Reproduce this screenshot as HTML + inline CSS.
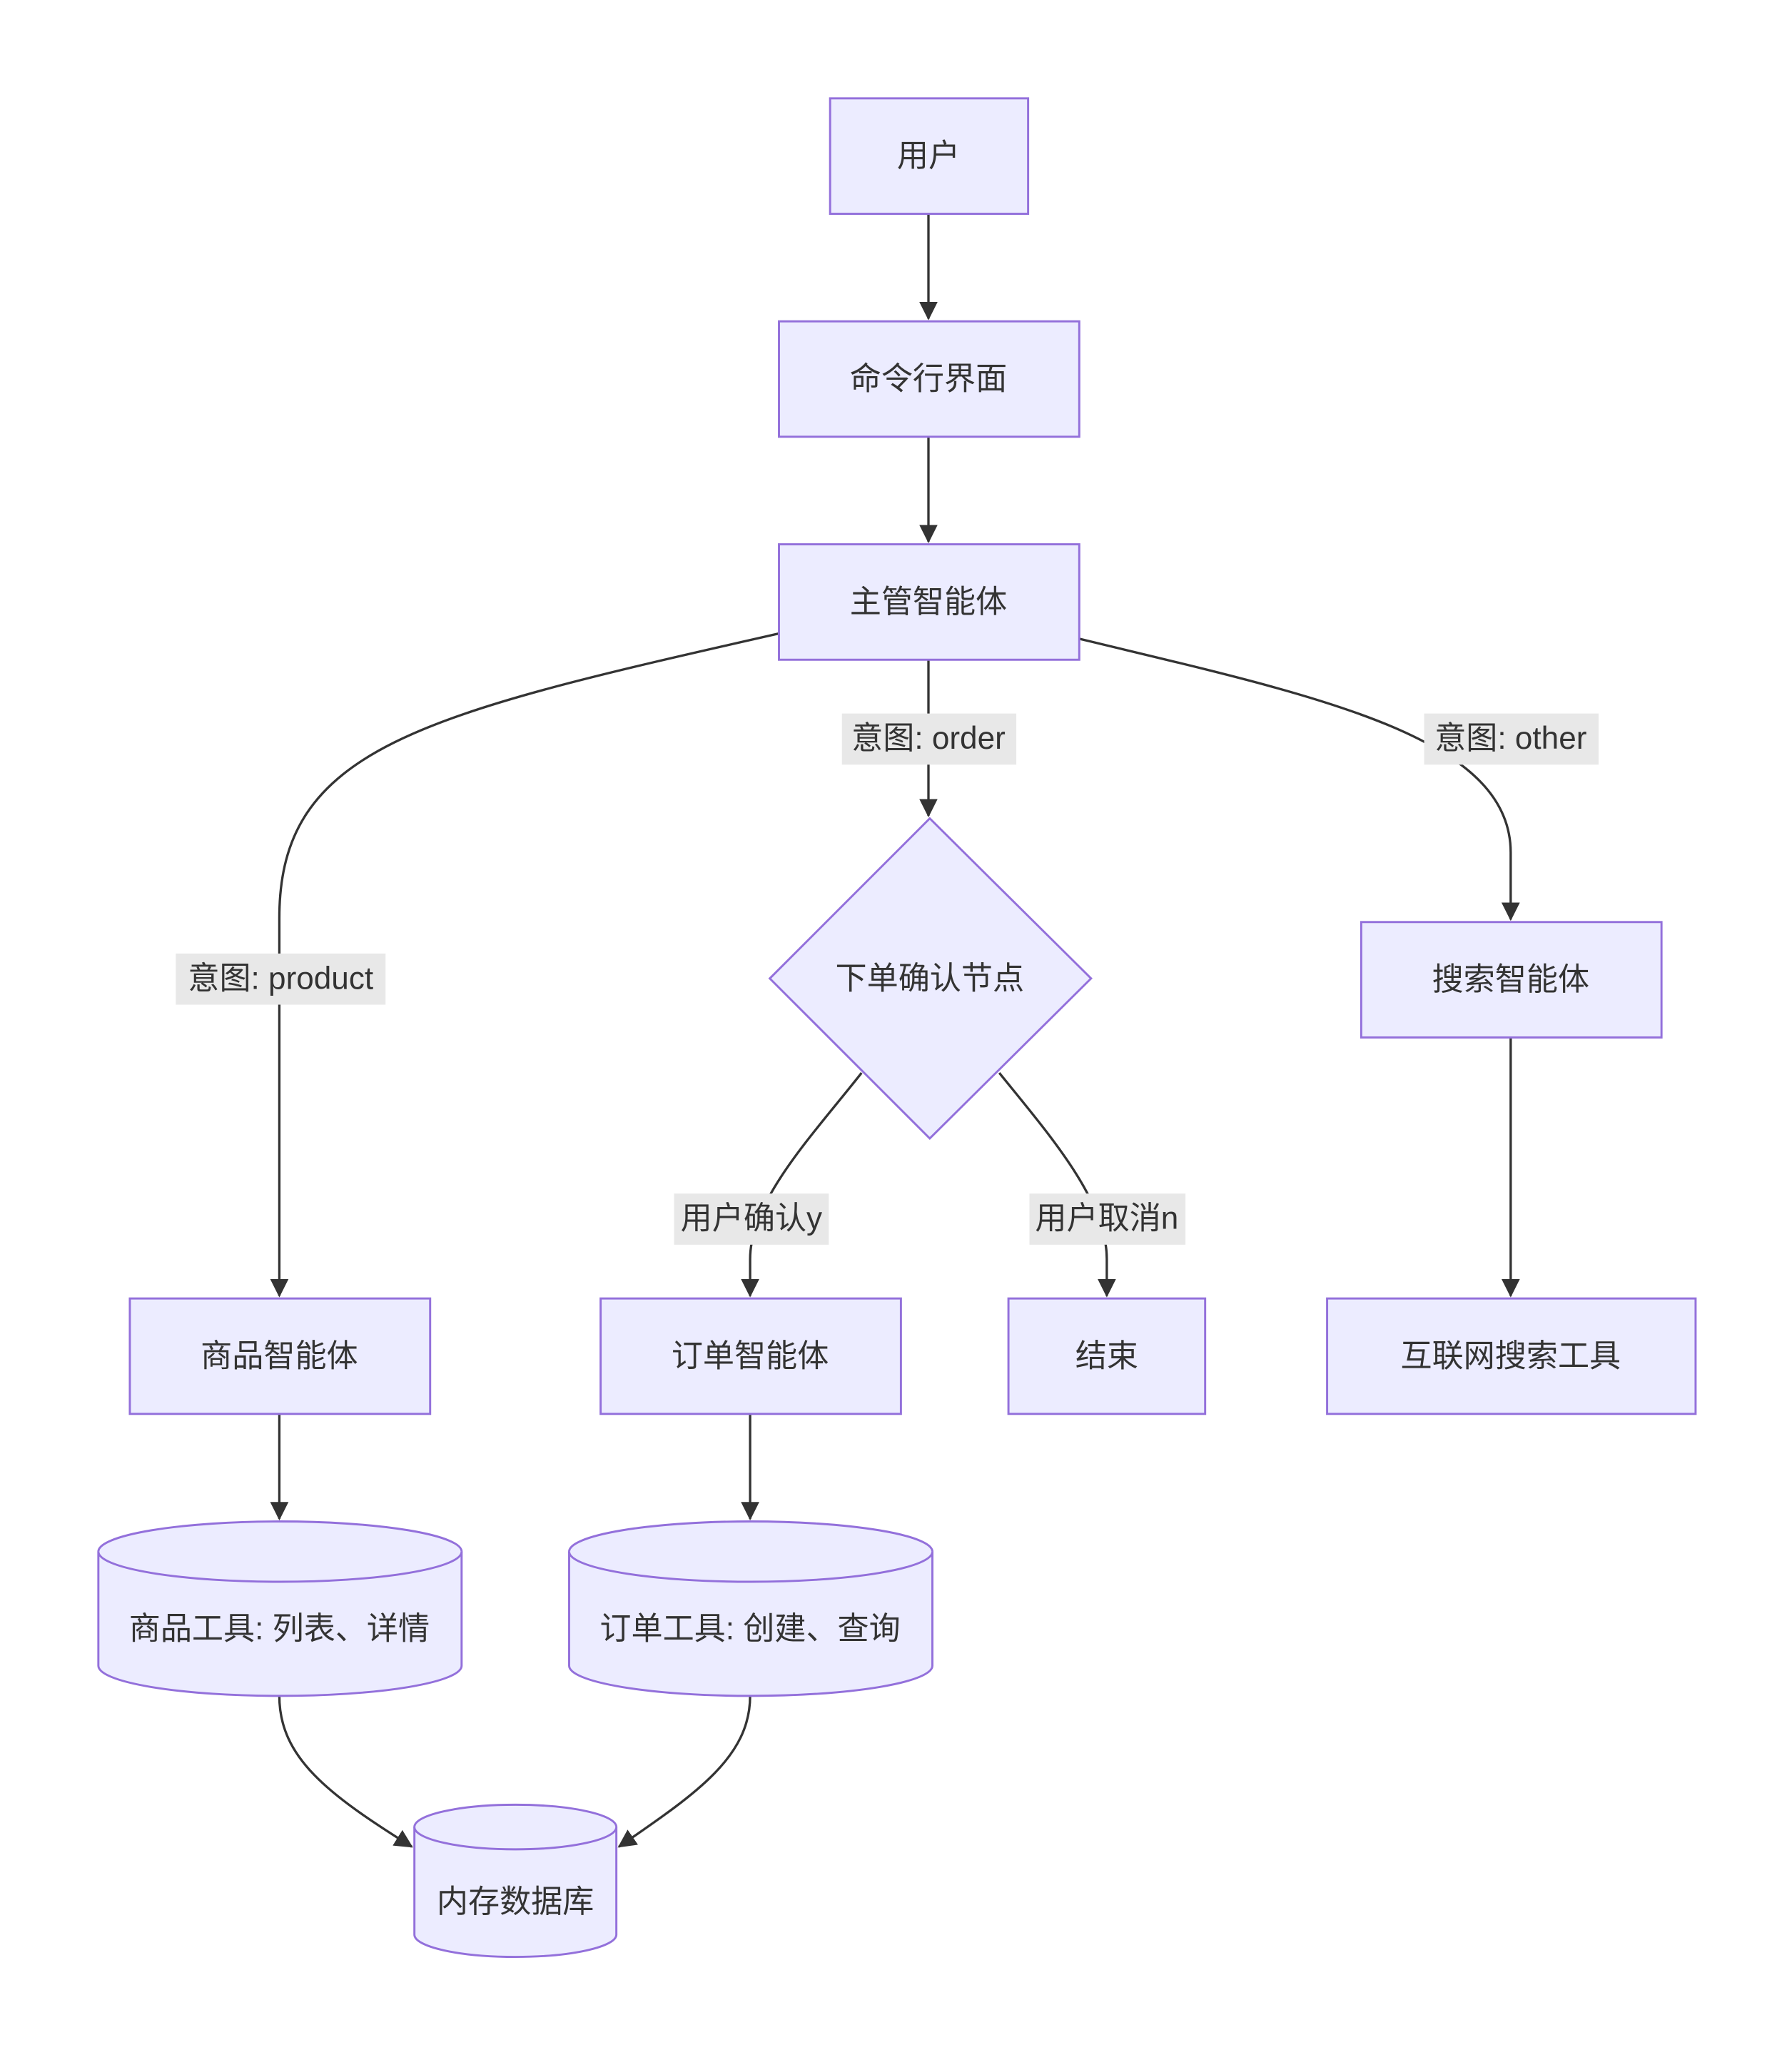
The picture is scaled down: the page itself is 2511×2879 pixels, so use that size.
<!DOCTYPE html>
<html><head><meta charset="utf-8"><style>
html,body{margin:0;padding:0;background:#fff;}
svg{display:block;}
text{font-family:"Liberation Sans","Noto Sans CJK SC",sans-serif;font-size:24px;fill:#333;text-anchor:middle;dominant-baseline:central;}
.n{fill:#ececff;stroke:#9370db;stroke-width:1.6;}
.e{fill:none;stroke:#333;stroke-width:1.8;}
.lb{fill:#e8e8e8;}
</style></head><body>
<svg width="2511" height="2879" viewBox="0 0 1366.5 1566.8" xmlns="http://www.w3.org/2000/svg">
<defs><marker id="a" viewBox="0 0 10 10" refX="9" refY="5" markerWidth="7" markerHeight="7" orient="auto" markerUnits="userSpaceOnUse"><path d="M0,0L10,5L0,10z" fill="#333"/></marker>
<marker id="b" viewBox="0 0 12 12" refX="11" refY="6" markerWidth="14" markerHeight="14" orient="auto" markerUnits="userSpaceOnUse"><path d="M0,0L12,6L0,12z" fill="#333"/></marker></defs>

<!-- edges -->
<path class="e" d="M708,163L708,243" marker-end="url(#b)"/>
<path class="e" d="M708,333L708,413" marker-end="url(#b)"/>
<path class="e" d="M594,483C320,545 213,570 213,700L213,988" marker-end="url(#b)"/>
<path class="e" d="M708,503L708,622" marker-end="url(#b)"/>
<path class="e" d="M823,487C1000,530 1152,560 1152,650L1152,701" marker-end="url(#b)"/>
<path class="e" d="M657,818C620,865 572,915 572,960L572,988" marker-end="url(#b)"/>
<path class="e" d="M762,818C800,865 844,915 844,960L844,988" marker-end="url(#b)"/>
<path class="e" d="M1152,791L1152,988" marker-end="url(#b)"/>
<path class="e" d="M213,1078L213,1158" marker-end="url(#b)"/>
<path class="e" d="M572,1078L572,1158" marker-end="url(#b)"/>
<path class="e" d="M213,1293C213,1340 250,1368 314,1408" marker-end="url(#b)"/>
<path class="e" d="M572,1293C572,1340 530,1368 472,1408" marker-end="url(#b)"/>

<!-- edge labels -->
<rect class="lb" x="134" y="727" width="160" height="39"/><text x="214" y="746">意图: product</text>
<rect class="lb" x="642" y="544" width="133" height="39"/><text x="708" y="563">意图: order</text>
<rect class="lb" x="1086" y="544" width="133" height="39"/><text x="1152" y="563">意图: other</text>
<rect class="lb" x="514" y="910" width="118" height="39"/><text x="573" y="929">用户确认y</text>
<rect class="lb" x="785" y="910" width="119" height="39"/><text x="844" y="929">用户取消n</text>

<!-- nodes -->
<rect class="n" x="633" y="75" width="151" height="88"/><text x="708" y="119">用户</text>
<rect class="n" x="594" y="245" width="229" height="88"/><text x="708" y="289">命令行界面</text>
<rect class="n" x="594" y="415" width="229" height="88"/><text x="708" y="459">主管智能体</text>
<polygon class="n" points="709,624 832,746 709,868 587,746"/><text x="709" y="746">下单确认节点</text>
<rect class="n" x="1038" y="703" width="229" height="88"/><text x="1152" y="747">搜索智能体</text>
<rect class="n" x="99" y="990" width="229" height="88"/><text x="213" y="1034">商品智能体</text>
<rect class="n" x="458" y="990" width="229" height="88"/><text x="572" y="1034">订单智能体</text>
<rect class="n" x="769" y="990" width="150" height="88"/><text x="844" y="1034">结束</text>
<rect class="n" x="1012" y="990" width="281" height="88"/><text x="1152" y="1034">互联网搜索工具</text>

<!-- cylinders -->
<path class="n" d="M75,1183A138.5,23 0 0 1 352,1183L352,1270A138.5,23 0 0 1 75,1270Z"/>
<path class="n" fill="none" d="M75,1183A138.5,23 0 0 0 352,1183"/>
<text x="213" y="1242">商品工具: 列表、详情</text>
<path class="n" d="M434,1183A138.5,23 0 0 1 711,1183L711,1270A138.5,23 0 0 1 434,1270Z"/>
<path class="n" fill="none" d="M434,1183A138.5,23 0 0 0 711,1183"/>
<text x="572" y="1242">订单工具: 创建、查询</text>
<path class="n" d="M316,1393A77,17 0 0 1 470,1393L470,1475A77,17 0 0 1 316,1475Z"/>
<path class="n" fill="none" d="M316,1393A77,17 0 0 0 470,1393"/>
<text x="393" y="1450">内存数据库</text>
</svg>
</body></html>
